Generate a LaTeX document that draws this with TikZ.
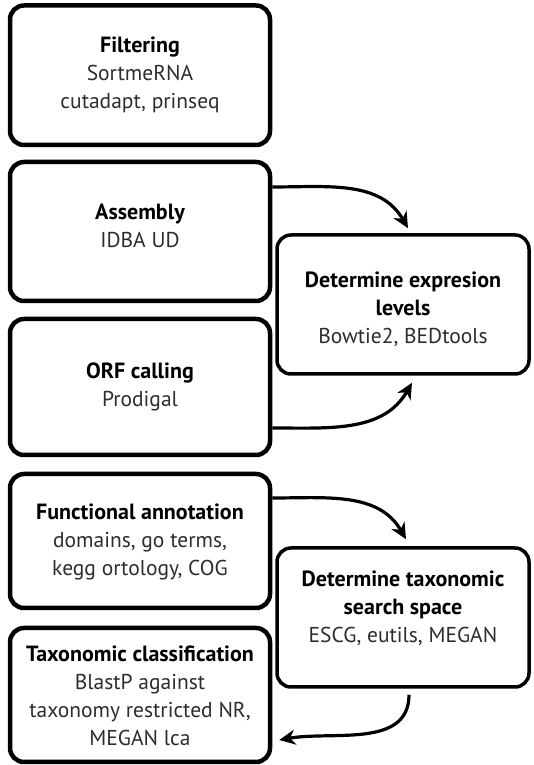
\documentclass[tikz,border=0pt]{standalone}
\usepackage{fontspec}
\setmainfont{PT Sans}
\usetikzlibrary{arrows.meta,calc}
\definecolor{subgray}{RGB}{45,45,45}
\newcommand\boxtitle[1]{{\color{black}\bfseries\fontsize{22}{28}\selectfont #1}}
\begin{document}
\begin{tikzpicture}[x=1pt,y=1pt,
  box/.style={draw=black, line width=4.5pt, rounded corners=14pt,
    inner sep=0pt, minimum width=260pt},
  rbox/.style={box, line width=3.5pt, minimum width=252pt},
  txt/.style={align=center, inner sep=0pt, text=subgray,
    font=\fontsize{21.5}{28}\selectfont},
  conn/.style={line width=3.2pt, -{Stealth[length=16pt,width=15pt,inset=5pt]}}]
\useasboundingbox[fill=white] (0,0) rectangle (533,765);
% boxes
\node[box, minimum height=139.5pt] (filt) at (140,689.75) {};
\node[box, minimum height=139pt] (asm) at (140,533.5) {};
\node[box, minimum height=136pt] (orf) at (140,378) {};
\node[box, minimum height=134pt] (func) at (140,224) {};
\node[box, minimum height=134pt] (tax) at (140,70) {};
\node[rbox, minimum height=139pt] (expr) at (403,460.5) {};
\node[rbox, minimum height=139pt] (srch) at (403,147.5) {};
% texts
\node[txt] (filtT) at (filt.center) {\boxtitle{Filtering}\\SortmeRNA\\cutadapt, prinseq};
\node[txt] (asmT) at ($(asm.center)+(0,6)$) {\boxtitle{Assembly}\\IDBA UD};
\node[txt] (orfT) at (orf.center) {\boxtitle{ORF calling}\\Prodigal};
\node[txt] (funcT) at ($(func.center)+(0,-1)$) {\boxtitle{Functional annotation}\\domains, go terms,\\kegg ortology, COG};
\node[txt] (taxT) at ($(tax.center)+(0,-1)$) {\boxtitle{Taxonomic classification}\\BlastP against\\taxonomy restricted NR,\\MEGAN lca};
\node[txt] (exprT) at ($(expr.center)+(0,-5)$) {\boxtitle{Determine expresion}\\\boxtitle{levels}\\Bowtie2, BEDtools};
\node[txt] (srchT) at ($(srch.center)+(0,9)$) {\boxtitle{Determine taxonomic}\\\boxtitle{search space}\\ESCG, eutils, MEGAN};
% connectors
\draw[conn] ($(asm.east)+(0,44.5)$) to[out=0,in=120] ($(expr.north)+(5,5)$);
\draw[conn] ($(orf.east)+(0,-41)$) to[out=0,in=-120] ($(expr.south)+(9,-7)$);
\draw[conn] ($(func.east)+(0,43)$) to[out=0,in=120] ($(srch.north)+(3,7)$);
\draw[conn] ($(srch.south)+(6,-6)$) to[out=-90,in=10] ($(tax.east)+(7,-45)$);
\end{tikzpicture}
\end{document}
